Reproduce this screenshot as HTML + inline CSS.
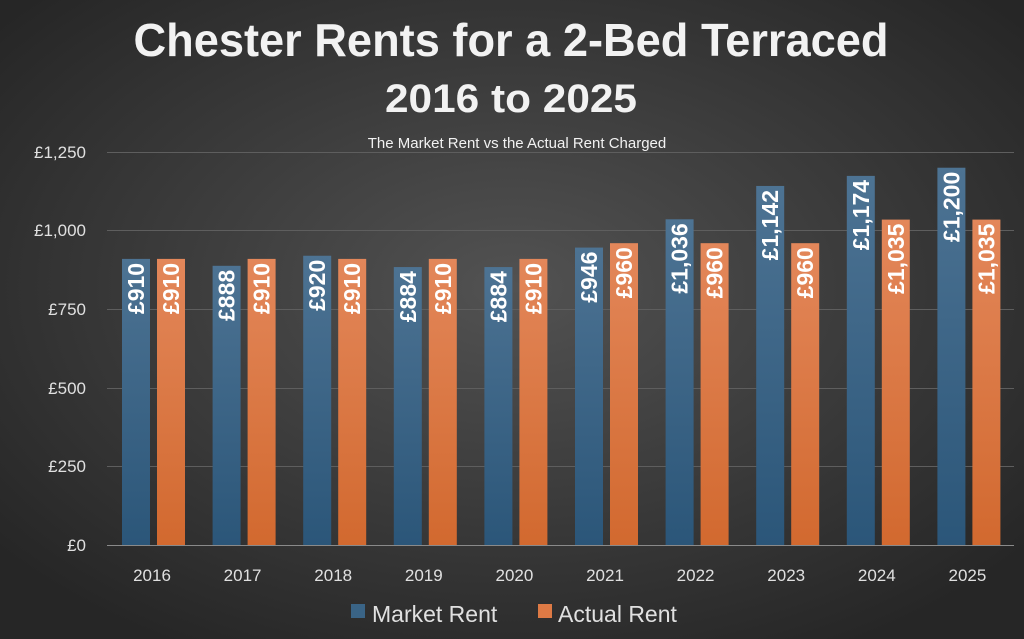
<!DOCTYPE html>
<html><head><meta charset="utf-8"><style>
html,body{margin:0;padding:0;width:1024px;height:639px;overflow:hidden;background:#333}
text{font-family:"Liberation Sans","DejaVu Sans",sans-serif}
</style></head><body>
<svg width="1024" height="639" viewBox="0 0 1024 639" xmlns="http://www.w3.org/2000/svg">
<defs>
<radialGradient id="bg" cx="50%" cy="45%" r="65%">
<stop offset="0" stop-color="#525252"/><stop offset="1" stop-color="#262626"/>
</radialGradient>
<linearGradient id="gb" x1="0" y1="0" x2="0" y2="1"><stop offset="0" stop-color="#4d7393"/><stop offset="1" stop-color="#2b5679"/></linearGradient>
<linearGradient id="go" x1="0" y1="0" x2="0" y2="1"><stop offset="0" stop-color="#e3875a"/><stop offset="1" stop-color="#d2692f"/></linearGradient>
</defs>
<rect width="1024" height="639" fill="url(#bg)"/>
<text x="511" y="56" text-anchor="middle" font-size="46" font-weight="bold" fill="#f2f2f2" textLength="755" lengthAdjust="spacingAndGlyphs">Chester Rents for a 2-Bed Terraced</text>
<text x="511" y="112" text-anchor="middle" font-size="40" font-weight="bold" fill="#f2f2f2" textLength="252" lengthAdjust="spacingAndGlyphs">2016 to 2025</text>
<text x="517" y="148" text-anchor="middle" font-size="15" fill="#f2f2f2">The Market Rent vs the Actual Rent Charged</text>
<g stroke="#5e5e5e" stroke-width="1">
<line x1="107" x2="1014" y1="152.5" y2="152.5"/><line x1="107" x2="1014" y1="230.5" y2="230.5"/><line x1="107" x2="1014" y1="309.5" y2="309.5"/><line x1="107" x2="1014" y1="388.5" y2="388.5"/><line x1="107" x2="1014" y1="466.5" y2="466.5"/>
</g>
<line x1="107" x2="1014" y1="545.5" y2="545.5" stroke="#8a8a8a"/>
<g font-size="17" fill="#e0e0e0" text-anchor="end">
<text x="86" y="158">£1,250</text><text x="86" y="236">£1,000</text><text x="86" y="315">£750</text><text x="86" y="394">£500</text><text x="86" y="472">£250</text><text x="86" y="551">£0</text>
</g>
<g id="bars"></g>
<g font-size="17" fill="#e0e0e0" text-anchor="middle" id="xl"></g>
<rect x="351" y="604" width="14" height="14" fill="#3a6486"/>
<text x="372" y="622" font-size="23" fill="#e0e0e0">Market Rent</text>
<rect x="538" y="604" width="14" height="14" fill="#de7a45"/>
<text x="558" y="622" font-size="23" fill="#e0e0e0">Actual Rent</text>
</svg>
<script>
var m=[910,888,920,884,884,946,1036,1142,1174,1200],a=[910,910,910,910,910,960,960,960,1035,1035];
var ns="http://www.w3.org/2000/svg",g=document.getElementById('bars'),xl=document.getElementById('xl');
function el(t,at,p,tx){var e=document.createElementNS(ns,t);for(var k in at)e.setAttribute(k,at[k]);if(tx)e.textContent=tx;p.appendChild(e);return e;}
function f(v){return '£'+(v>=1000?Math.floor(v/1000)+','+String(v%1000).padStart(3,'0'):v);}
for(var i=0;i<10;i++){
 var c=152+i*90.6;
 [[m[i],c-30,'url(#gb)'],[a[i],c+5,'url(#go)']].forEach(function(d){
  var y=545-d[0]*0.3144;
  el('rect',{x:d[1],y:y,width:28,height:545-y,fill:d[2]},g);
  var tx=d[1]+14,ty=y+4;
  el('text',{x:0,y:0,transform:'translate('+(tx+8)+','+ty+') rotate(-90)','text-anchor':'end','font-size':'23','font-weight':'bold',fill:'#fff'},g,f(d[0]));
 });
 el('text',{x:c,y:581},xl,String(2016+i));
}
</script>
</body></html>
